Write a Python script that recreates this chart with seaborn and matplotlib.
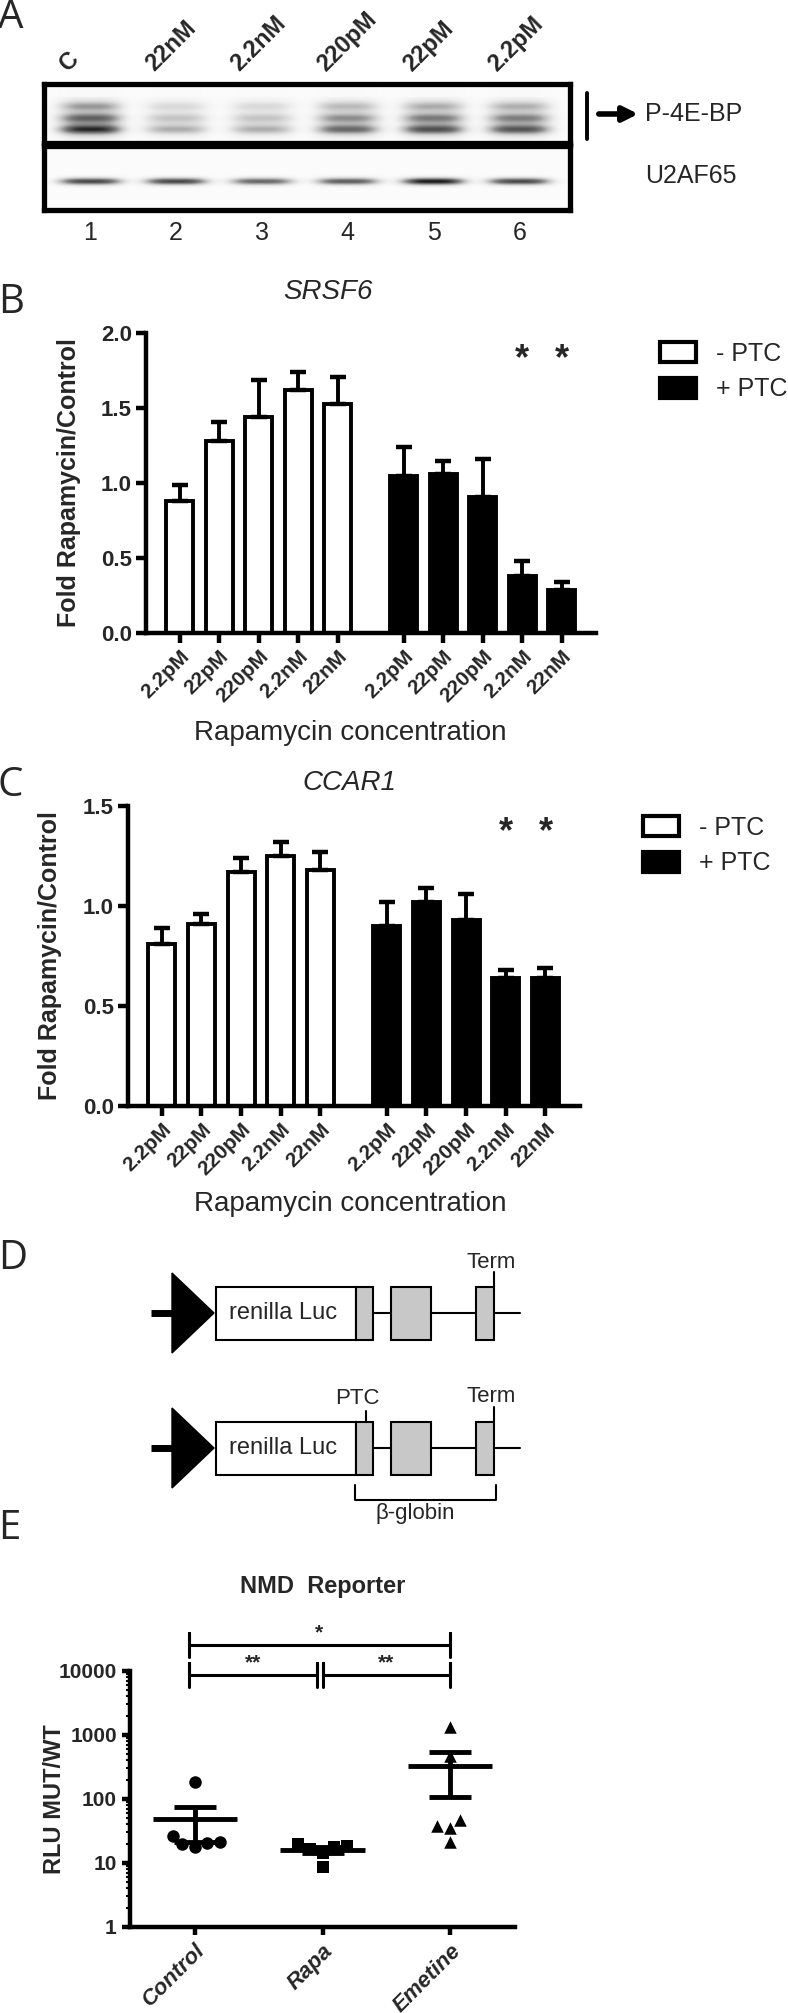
import numpy as np
import pandas as pd
import matplotlib
matplotlib.use("Agg")
import matplotlib.pyplot as plt
import seaborn as sns
from matplotlib.patches import Patch, Rectangle, Polygon, FancyArrowPatch
from matplotlib.lines import Line2D
from matplotlib.ticker import LogLocator, NullFormatter
from matplotlib.transforms import blended_transform_factory

W, H = 788, 2013

# ---- panel A: western blot (relative band intensity per lane) ----
lane_labels = ["C", "22nM", "2.2nM", "220pM", "22pM", "2.2pM"]
lane_numbers = ["1", "2", "3", "4", "5", "6"]
p4ebp_signal = [0.95, 0.45, 0.45, 0.72, 0.82, 0.80]
u2af65_signal = [0.80, 0.80, 0.68, 0.72, 0.95, 0.80]

# ---- panels B / C: fold rapamycin / control ----
conc_labels = ["2.2pM", "22pM", "220pM", "2.2nM", "22nM"]
ptc_groups = ["- PTC", "+ PTC"]
srsf6_minus = [0.88, 1.28, 1.44, 1.62, 1.53]
srsf6_minus_err = [0.11, 0.13, 0.25, 0.12, 0.18]
srsf6_plus = [1.05, 1.06, 0.91, 0.38, 0.29]
srsf6_plus_err = [0.19, 0.09, 0.25, 0.10, 0.05]
ccar1_minus = [0.81, 0.91, 1.17, 1.25, 1.18]
ccar1_minus_err = [0.08, 0.05, 0.07, 0.07, 0.09]
ccar1_plus = [0.90, 1.02, 0.93, 0.64, 0.64]
ccar1_plus_err = [0.12, 0.07, 0.13, 0.04, 0.05]
significant = [3, 4]  # +PTC bars marked with *

# ---- panel E: NMD reporter ----
nmd_groups = ["Control", "Rapa", "Emetine"]
control_rlu = [186, 26.8, 20.6, 17.7, 19.9, 21.1]
rapa_rlu = [19.9, 17.7, 8.6, 14.1, 16.5, 18.4]
emetine_rlu = [1356, 462, 38.4, 47.1, 34.9, 21.1]
nmd_comparisons = [("Control", "Emetine", "*"), ("Control", "Rapa", "**"), ("Rapa", "Emetine", "**")]

sns.set_theme(style="ticks")
plt.rcParams["font.family"] = ["Liberation Sans", "DejaVu Sans"]
LETTER = ["Open Sans", "DejaVu Sans"]


def box(l, t, r, b):
    return [l / W, 1 - b / H, (r - l) / W, (b - t) / H]


def fx(x):
    return x / W


def fy(y):
    return 1 - y / H


fig = plt.figure(figsize=(W / 100, H / 100), dpi=100)
fig.patch.set_facecolor("white")

for letter, y in zip("ABCDE", [18, 303, 786, 1259, 1529]):
    fig.text(-0.003, fy(y), letter, fontsize=29, family=LETTER, ha="left", va="center")

# ================= A =================
xl = (-0.54, 5.59)
xs = np.linspace(*xl, 700)


def lane_profile(x):
    return np.exp(-np.abs((x - np.arange(6)[:, None]) / 0.37) ** 3.5)


ax_top = fig.add_axes(box(44, 84, 570, 143))
ax_bot = fig.add_axes(box(44, 146, 570, 210))

ys = np.linspace(0, 1, 150)
prof = lane_profile(xs)
bands_top = (0.40 * np.exp(-((ys - 0.38) / 0.085) ** 2) + 0.62 * np.exp(-((ys - 0.58) / 0.09) ** 2)
             + 0.82 * np.exp(-((ys - 0.77) / 0.085) ** 2) + 0.12)
bands_top = bands_top * ((ys > 0.22) & (ys < 0.95)) + bands_top * 0.2 * ~((ys > 0.22) & (ys < 0.95))
img_top = (np.array(p4ebp_signal)[:, None, None] * prof[:, None, :] * bands_top[None, :, None]).sum(0)
bands_bot = np.exp(-((ys - 0.56) / 0.055) ** 2)
img_bot = (np.array(u2af65_signal)[:, None, None] * prof[:, None, :] * bands_bot[None, :, None]).sum(0)

for ax, img in [(ax_top, img_top), (ax_bot, img_bot)]:
    ax.imshow(img + 0.03, cmap="Greys", vmin=0, vmax=1.05, extent=(xl[0], xl[1], 1, 0), aspect="auto",
              interpolation="bicubic")
    ax.set_xlim(*xl)
    ax.set_ylim(1, 0)
    ax.set_xticks([])
    ax.set_yticks([])
    for s in ax.spines.values():
        s.set_visible(True)
        s.set_linewidth(3.8)
        s.set_color("black")

tr = blended_transform_factory(ax_top.transData, ax_top.transAxes)
for i, lab in enumerate(lane_labels):
    ax_top.text(i - 0.22, 1.14, lab, transform=tr, rotation=45, rotation_mode="anchor", ha="left",
                va="bottom", fontsize=17, fontweight="bold")
tr = blended_transform_factory(ax_bot.transData, ax_bot.transAxes)
for i, lab in enumerate(lane_numbers):
    ax_bot.text(i, -0.36, lab, transform=tr, ha="center", va="center", fontsize=18)

fig.add_artist(Line2D([fx(587), fx(587)], [fy(93), fy(139)], lw=2.8, color="black"))
fig.add_artist(FancyArrowPatch((fx(596), fy(114)), (fx(641), fy(114)), transform=fig.transFigure,
                               arrowstyle="-|>", mutation_scale=22, lw=4, color="black"))
fig.text(fx(645), fy(114), "P-4E-BP", fontsize=18, va="center")
fig.text(fx(645), fy(176), "U2AF65", fontsize=18, va="center")


# ================= B / C =================
def fold_panel(rect, minus, minus_err, plus, plus_err, ymax, gene, title_xy, legend_xy, xlabel_y):
    ax = fig.add_axes(box(*rect))
    pos = list(range(5)) + [5.67 + i for i in range(5)]
    df = pd.DataFrame({"pos": pos, "fold": minus + plus, "err": minus_err + plus_err,
                       "PTC": [ptc_groups[0]] * 5 + [ptc_groups[1]] * 5})
    sns.barplot(data=df, x="pos", y="fold", hue="PTC", palette={"- PTC": "white", "+ PTC": "black"},
                native_scale=True, width=0.68, dodge=False, edgecolor="black", linewidth=2.8,
                errorbar=None, legend=False, ax=ax)
    ax.errorbar(df["pos"], df["fold"], yerr=[np.zeros(len(df)), df["err"]], fmt="none", ecolor="black",
                elinewidth=2.8, capsize=5.5, capthick=3.2)
    for i in significant:
        ax.text(pos[5 + i], ymax * 0.91, "*", ha="center", va="center", fontsize=26, fontweight="bold")
    ax.set_xlim(-0.85, 10.54)
    ax.set_ylim(0, ymax)
    ax.set_yticks(np.arange(0, ymax + 0.01, 0.5))
    ax.set_yticklabels([f"{v:.1f}" for v in np.arange(0, ymax + 0.01, 0.5)])
    ax.set_xticks(pos)
    ax.set_xticklabels(conc_labels * 2, rotation=45, ha="right", rotation_mode="anchor")
    sns.despine(ax=ax)
    for s in ["left", "bottom"]:
        ax.spines[s].set_linewidth(3.2)
        ax.spines[s].set_color("black")
    ax.tick_params(width=3.2, length=7, labelsize=16, color="black", pad=3)
    for lbl in ax.get_xticklabels() + ax.get_yticklabels():
        lbl.set_fontweight("bold")
    for lbl in ax.get_xticklabels():
        lbl.set_fontsize(15)
    ax.set_xlabel("")
    ax.set_ylabel("Fold Rapamycin/Control", fontsize=18, fontweight="bold")
    ax.yaxis.set_label_coords(-0.145, 0.5)
    fig.text(fx(title_xy[0]), fy(title_xy[1]), gene, fontsize=20, style="italic", ha="center", va="center")
    handles = [Patch(facecolor="white", edgecolor="black", lw=3, label=ptc_groups[0]),
               Patch(facecolor="black", edgecolor="black", lw=3, label=ptc_groups[1])]
    ax.legend(handles=handles, loc="upper left", bbox_to_anchor=(fx(legend_xy[0]), fy(legend_xy[1])),
              bbox_transform=fig.transFigure, frameon=False, fontsize=18, handlelength=1.45,
              handleheight=0.85, labelspacing=0.45, handletextpad=0.8, borderpad=0, borderaxespad=0)
    fig.text(fx(350), fy(xlabel_y), "Rapamycin concentration", fontsize=20, ha="center", va="center")
    return ax


fold_panel((146, 333, 596, 633), srsf6_minus, srsf6_minus_err, srsf6_plus, srsf6_plus_err, 2.0,
           "SRSF6", (328, 292), (660, 342), 733)
fold_panel((128, 806, 580, 1106), ccar1_minus, ccar1_minus_err, ccar1_plus, ccar1_plus_err, 1.5,
           "CCAR1", (349, 783), (643, 816), 1204)

# ================= D =================
ax_d = fig.add_axes(box(0, 1230, 788, 1580))
ax_d.set_xlim(0, W)
ax_d.set_ylim(1580, 1230)
ax_d.axis("off")
exon_fill = "#c8c8c8"
for k, cy in enumerate([1313, 1448]):
    ax_d.plot([151, 176], [cy, cy], lw=5, color="black", solid_capstyle="butt")
    ax_d.add_patch(Polygon([(172, cy - 40), (214, cy), (172, cy + 40)], closed=True, color="black"))
    ax_d.add_patch(Rectangle((216, cy - 26.5), 140, 53, fc="white", ec="black", lw=1.5))
    ax_d.text(229, cy, "renilla Luc", fontsize=17, va="center", ha="left")
    for x0, w in [(356, 17), (391, 40), (476, 18)]:
        ax_d.add_patch(Rectangle((x0, cy - 26.5), w, 53, fc=exon_fill, ec="black", lw=1.5))
    for x0, x1 in [(373, 391), (431, 476), (494, 520)]:
        ax_d.plot([x0, x1], [cy, cy], lw=1.5, color="black")
    ax_d.plot([494, 494], [cy - 26.5, cy - 41], lw=1.5, color="black")
    ax_d.text(491, cy - 51, "Term", fontsize=16, ha="center", va="center")
    if k == 1:
        ax_d.plot([366, 366], [cy - 26.5, cy - 37], lw=1.5, color="black")
        ax_d.text(357, cy - 50, "PTC", fontsize=16, ha="center", va="center")
        ax_d.plot([355, 355, 496, 496], [cy + 37, cy + 52, cy + 52, cy + 37], lw=1.5, color="black")
        ax_d.text(415, cy + 66, "\u03b2-globin", fontsize=16, ha="center", va="center")

# ================= E =================
ax_e = fig.add_axes(box(130, 1671, 515, 1927))
df_e = pd.DataFrame({"group": ["Control"] * len(control_rlu) + ["Rapa"] * len(rapa_rlu)
                     + ["Emetine"] * len(emetine_rlu),
                     "rlu": control_rlu + rapa_rlu + emetine_rlu})
ax_e.set_yscale("log")
for grp, marker in zip(nmd_groups, ["o", "s", "^"]):
    sns.swarmplot(data=df_e[df_e["group"] == grp], x="group", y="rlu", order=nmd_groups, marker=marker,
                  color="black", size=9, log_scale=True, ax=ax_e)
for i, grp in enumerate(nmd_groups):
    vals = df_e.loc[df_e["group"] == grp, "rlu"].to_numpy()
    m = vals.mean()
    sem = vals.std(ddof=1) / np.sqrt(len(vals))
    ax_e.hlines(m, i - 0.33, i + 0.33, lw=3.5, color="black")
    ax_e.errorbar(i, m, yerr=sem, fmt="none", ecolor="black", elinewidth=3.5, capsize=15, capthick=3.5)

ax_e.set_xlim(-0.51, 2.51)
ax_e.set_ylim(1, 10000)
ax_e.set_yticks([1, 10, 100, 1000, 10000])
ax_e.set_yticklabels(["1", "10", "100", "1000", "10000"])
ax_e.yaxis.set_minor_locator(LogLocator(base=10, subs=np.arange(2, 10)))
ax_e.yaxis.set_minor_formatter(NullFormatter())
ax_e.set_xticks(range(3))
ax_e.set_xticklabels(nmd_groups, rotation=45, ha="right", rotation_mode="anchor")
sns.despine(ax=ax_e)
for s in ["left", "bottom"]:
    ax_e.spines[s].set_linewidth(3.2)
    ax_e.spines[s].set_color("black")
ax_e.tick_params(which="major", width=3.2, length=6, labelsize=15, color="black")
ax_e.tick_params(which="minor", width=1.5, length=3, color="black")
for lbl in ax_e.get_yticklabels():
    lbl.set_fontweight("bold")
for lbl in ax_e.get_xticklabels():
    lbl.set_fontweight("bold")
    lbl.set_fontstyle("italic")
    lbl.set_fontsize(16)
ax_e.set_xlabel("")
ax_e.set_ylabel("RLU MUT/WT", fontsize=17, fontweight="bold")
ax_e.yaxis.set_label_coords(-0.165, 0.5)
fig.text(fx(323), fy(1586), "NMD  Reporter", fontsize=17, fontweight="bold", ha="center", va="center")

idx = {g: i for i, g in enumerate(nmd_groups)}
for g1, g2, star in nmd_comparisons:
    if g1 == "Control" and g2 == "Emetine":
        yb, x1, x2 = 25500, idx[g1] - 0.05, idx[g2]
    else:
        yb = 8800
        x1 = idx[g1] - 0.05 if idx[g1] == 0 else idx[g1]
        x2 = idx[g2] - 0.04 if idx[g2] == 1 else idx[g2]
    ax_e.plot([x1, x1, x1, x2, x2, x2], [yb / 1.54, yb * 1.54, yb, yb, yb * 1.54, yb / 1.54],
              color="black", lw=2.2, clip_on=False)
    ax_e.text((x1 + x2) / 2, yb * 1.1, star, ha="center", va="bottom", fontsize=15, fontweight="bold")

fig.savefig("out.png", dpi=100, facecolor="white")
